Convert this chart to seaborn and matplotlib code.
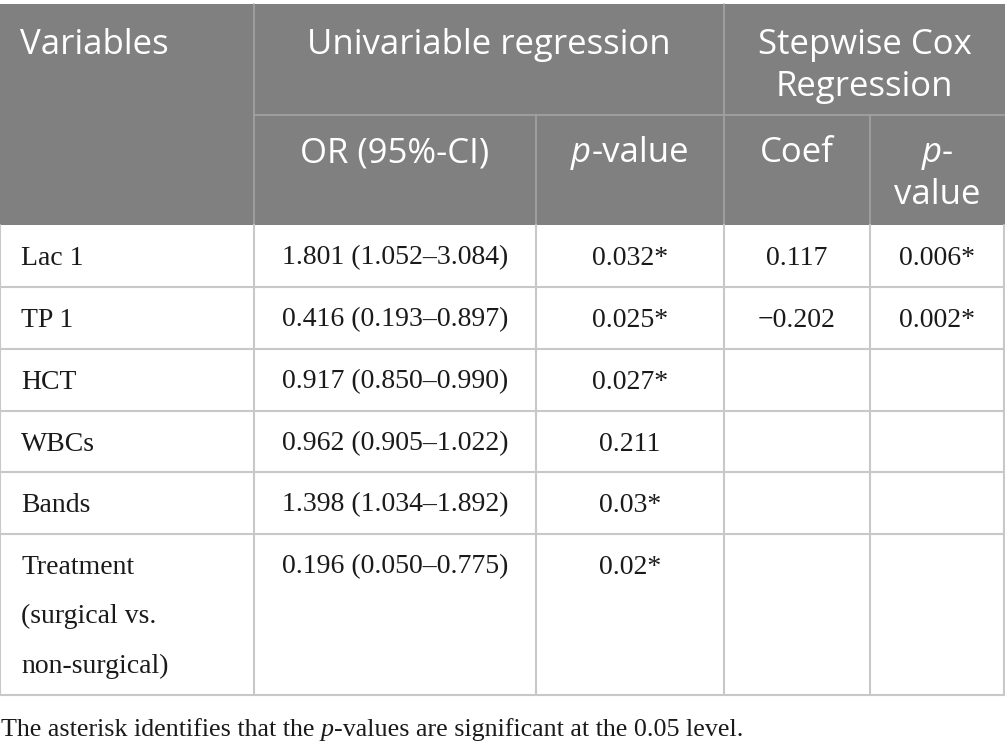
import matplotlib
matplotlib.use("Agg")
import matplotlib.pyplot as plt
import seaborn as sns
from matplotlib.patches import Rectangle

# table contents
variables = ["Lac 1", "TP 1", "HCT", "WBCs", "Bands", "Treatment\n(surgical vs.\nnon-surgical)"]
or_ci = ["1.801 (1.052\u20133.084)", "0.416 (0.193\u20130.897)", "0.917 (0.850\u20130.990)",
         "0.962 (0.905\u20131.022)", "1.398 (1.034\u20131.892)", "0.196 (0.050\u20130.775)"]
uni_p = ["0.032*", "0.025*", "0.027*", "0.211", "0.03*", "0.02*"]
coef = ["0.117", "\u22120.202", "", "", "", ""]
cox_p = ["0.006*", "0.002*", "", "", "", ""]
footnote = ["The asterisk identifies that the ", "p", "-values are significant at the 0.05 level."]

sns.set_theme(style="white")
plt.rcParams["font.family"] = ["Liberation Serif", "DejaVu Serif"]

HEAD_FONT = "Open Sans"
BODY_FONT = "Liberation Serif"
HEAD_SIZE = 25
BODY_SIZE = 20
NOTE_SIZE = 18.7
HEAD_BG = "#808080"
HEAD_LINE = "#a3a3a3"
GRID = "#c8c8c8"

col_x = [0, 254, 536, 724, 870, 1004]
row_y = [225, 287, 349, 411, 472, 534, 695]

fig = plt.figure(figsize=(10.05, 7.48), dpi=100)
ax = fig.add_axes([0, 0, 1, 1])
ax.set_xlim(0, 1005)
ax.set_ylim(748, 0)
ax.axis("off")

# header block
ax.add_patch(Rectangle((0, 4), 1005, 221, facecolor=HEAD_BG, edgecolor="none"))
ax.plot([254, 254], [4, 225], color=HEAD_LINE, lw=1.2)
ax.plot([724, 724], [4, 225], color=HEAD_LINE, lw=1.2)
ax.plot([536, 536], [115, 225], color=HEAD_LINE, lw=1.2)
ax.plot([870, 870], [115, 225], color=HEAD_LINE, lw=1.2)
ax.plot([254, 1005], [115, 115], color=HEAD_LINE, lw=1.2)

fig.canvas.draw()
renderer = fig.canvas.get_renderer()


def rich(x, y, parts, ha="left", **kw):
    # draw text pieces one after another, some of them italic
    objs = []
    for s, style in parts:
        t = ax.text(0, y, s, va="center", ha="left", fontstyle=style, **kw)
        objs.append(t)
    widths = [t.get_window_extent(renderer).width for t in objs]
    total = sum(widths)
    start = x - total / 2 if ha == "center" else x
    for t, w in zip(objs, widths):
        t.set_x(start)
        start += w


hk = dict(family=HEAD_FONT, fontsize=HEAD_SIZE, color="white")
ax.text(20, 45, "Variables", va="center", ha="left", **hk)
ax.text((254 + 724) / 2, 45, "Univariable regression", va="center", ha="center", **hk)
ax.text((724 + 1005) / 2, 45, "Stepwise Cox", va="center", ha="center", **hk)
ax.text((724 + 1005) / 2, 87, "Regression", va="center", ha="center", **hk)
ax.text((254 + 536) / 2, 153, "OR (95%-CI)", va="center", ha="center", **hk)
rich((536 + 724) / 2, 153, [("p", "italic"), ("-value", "normal")], ha="center", **hk)
ax.text((724 + 870) / 2, 153, "Coef", va="center", ha="center", **hk)
rich((870 + 1005) / 2, 153, [("p", "italic"), ("-", "normal")], ha="center", **hk)
ax.text((870 + 1005) / 2, 195, "value", va="center", ha="center", **hk)

# body grid
for y in row_y[1:]:
    ax.plot([0, 1004], [y, y], color=GRID, lw=1.5)
for x in col_x:
    ax.plot([x, x], [row_y[0], row_y[-1]], color=GRID, lw=1.5)

bk = dict(family=BODY_FONT, fontsize=BODY_SIZE, color="#1a1a1a")
for i in range(len(variables)):
    top = row_y[i]
    yc = top + 33
    lines = variables[i].split("\n")
    for j, line in enumerate(lines):
        ax.text(21, yc + j * 49.5, line, va="center", ha="left", **bk)
    cols = [or_ci[i], uni_p[i], coef[i], cox_p[i]]
    for c, val in enumerate(cols):
        if val:
            ax.text((col_x[c + 1] + col_x[c + 2]) / 2, yc, val, va="center", ha="center", **bk)

rich(1, 730, [(footnote[0], "normal"), (footnote[1], "italic"), (footnote[2], "normal")],
     **dict(family=BODY_FONT, fontsize=NOTE_SIZE, color="#1a1a1a"))

fig.savefig("out.png", dpi=100)
